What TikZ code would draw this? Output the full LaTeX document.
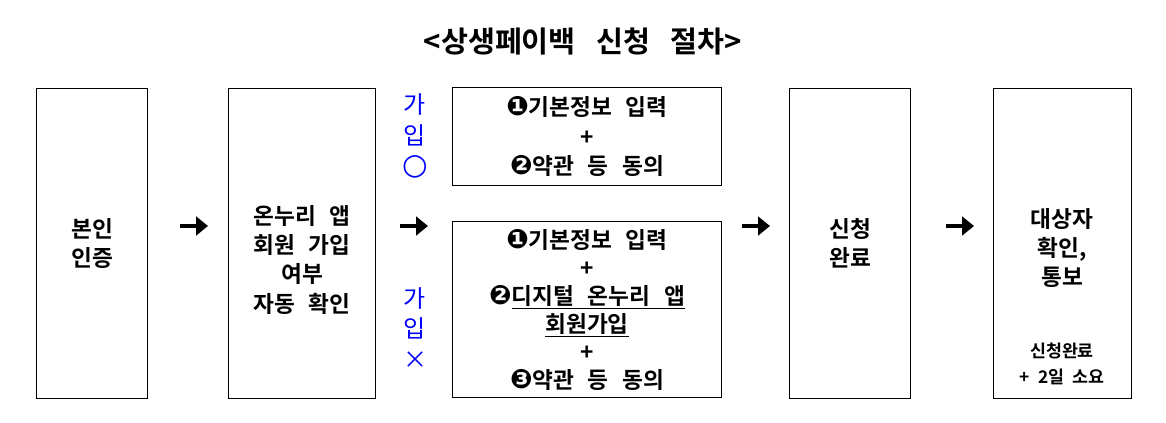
\documentclass[tikz,border=0pt]{standalone}
\usepackage{fontspec}
\setmainfont{Noto Sans CJK KR}[BoldFont={* Bold}]
\newfontfamily\sym{DejaVu Sans}
\usetikzlibrary{arrows.meta}
\newcommand\bodyf{\bfseries\fontsize{17pt}{22pt}\selectfont\spaceskip=0.6em\relax}
\newcommand\bodyg{\bfseries\fontsize{17pt}{21pt}\selectfont\spaceskip=0.6em\relax}
\newcommand\titlef{\bfseries\fontsize{22pt}{26pt}\selectfont\spaceskip=0.7em\relax}
\newcommand\smallf{\bfseries\fontsize{13pt}{19pt}\selectfont\spaceskip=0.5em\relax}
\newcommand\cn[1]{{\sym\fontsize{20pt}{21pt}\selectfont #1}}
\tikzset{
 box/.style={draw,line width=0.8pt,anchor=north west,inner sep=0pt},
 txt/.style={font=\bodyf,align=center},
 blu/.style={text=blue,font=\fontsize{18pt}{23pt}\selectfont,align=center},
 fat/.style={line width=3.5pt,-{Triangle[length=9pt,width=14pt]}}
}
\begin{document}
\begin{tikzpicture}[x=0.75pt,y=-0.75pt]
\useasboundingbox (0,0) rectangle (1166,422);
\node[font=\titlef] (title) at (583,41) {<상생페이백 신청 절차>};
\node[box,minimum width=111*0.75pt,minimum height=310*0.75pt] (b1) at (36,88) {};
\node[box,minimum width=147*0.75pt,minimum height=310*0.75pt] (b2) at (228,88) {};
\node[box,minimum width=269*0.75pt,minimum height=98*0.75pt] (b3a) at (452,87) {};
\node[box,minimum width=269*0.75pt,minimum height=176*0.75pt] (b3b) at (452,221) {};
\node[box,minimum width=121*0.75pt,minimum height=310*0.75pt] (b4) at (789,88) {};
\node[box,minimum width=138*0.75pt,minimum height=310*0.75pt] (b5) at (993,88) {};
\node[txt] (t1) at (b1.center) {본인\\인증};
\node[txt] (t2) at ([yshift=-12pt]b2.center) {온누리 앱\\회원 가입\\여부\\자동 확인};
\node[txt] (t3) at (b3a.center) {\cn{❶}기본정보 입력\\+\\\cn{❷}약관 등 동의};
\node[txt,font=\bodyg] (t4) at (b3b.center) {\cn{❶}기본정보 입력\\+\\\cn{❷}\underline{디지털 온누리 앱}\\\underline{회원가입}\\+\\\cn{❸}약관 등 동의};
\node[txt] (t5) at (b4.center) {신청\\완료};
\node[txt] (t6) at (1062,248) {대상자\\확인,\\통보};
\node[font=\smallf,align=center] (t7) at (1062,364) {신청완료\\+ 2일 소요};
\node[blu] (g1) at (415,136) {가\\입\\{\sym\fontsize{22pt}{23pt}\selectfont ○}};
\node[blu] (g2) at (415,328) {가\\입\\×};
\coordinate (a1) at (180,226); \coordinate (a1e) at (208,226);
\coordinate (a2) at (400,226); \coordinate (a2e) at (428,226);
\coordinate (a3) at (742,226); \coordinate (a3e) at (770,226);
\coordinate (a4) at (946,226); \coordinate (a4e) at (974,226);
\draw[fat] (a1) -- (a1e);
\draw[fat] (a2) -- (a2e);
\draw[fat] (a3) -- (a3e);
\draw[fat] (a4) -- (a4e);
\end{tikzpicture}
\end{document}
